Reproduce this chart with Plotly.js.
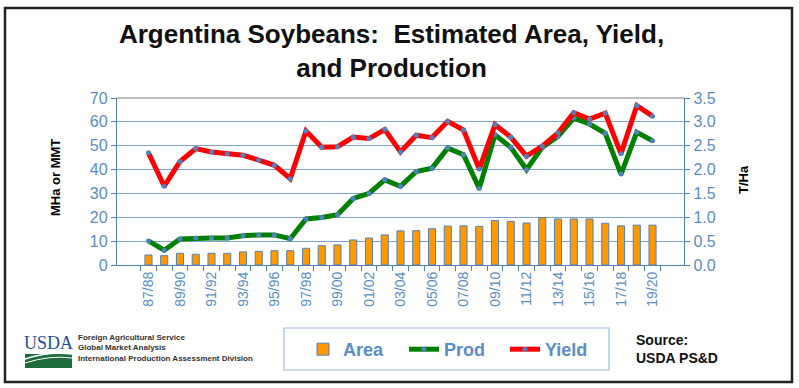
<!DOCTYPE html>
<html>
<head>
<meta charset="utf-8">
<script src="https://cdn.plot.ly/plotly-3.0.1.min.js"></script>
<style>html,body{margin:0;padding:0;background:#fff;}#chart{width:799px;height:388px;}</style>
</head>
<body>
<div id="chart"></div>
<script>
// ---- data ----
const years = ["87/88","88/89","89/90","90/91","91/92","92/93","93/94","94/95","95/96","96/97",
  "97/98","98/99","99/00","00/01","01/02","02/03","03/04","04/05","05/06","06/07",
  "07/08","08/09","09/10","10/11","11/12","12/13","13/14","14/15","15/16","16/17",
  "17/18","18/19","19/20"];
const areaVals = [4.2,3.9,4.9,4.5,4.9,4.9,5.5,5.7,6.0,6.0,
  7.0,8.1,8.4,10.5,11.3,12.6,14.3,14.4,15.2,16.3,
  16.4,16.2,18.6,18.3,17.6,19.8,19.3,19.3,19.3,17.5,
  16.4,16.7,16.7];
const prodVals = [10.1,6.2,10.9,11.3,11.3,11.3,12.3,12.6,12.6,11.0,
  19.3,19.9,21.1,27.9,30.0,35.7,33.0,39.2,40.6,49.0,
  46.2,32.1,54.6,49.3,40.0,49.3,53.9,61.6,59.1,55.2,
  38.1,55.6,52.1];
const yieldVals = [2.35,1.65,2.17,2.44,2.37,2.33,2.30,2.20,2.09,1.81,
  2.81,2.47,2.48,2.68,2.65,2.84,2.37,2.72,2.67,3.01,
  2.83,2.01,2.94,2.68,2.28,2.49,2.77,3.19,3.06,3.18,
  2.33,3.34,3.12];
const tickLabels = years.map((y,i)=> i%2===0 ? y : "");

// ---- layout helpers ----
const W=799,H=388, L=117, R=115, T=98, B=123;
const pw=W-L-R, ph=H-T-B;
const px=x=>(x-L)/pw, py=y=>(H-B-y)/ph;
const blue="#5B8DC6", lineBlue="#4F81BD";
const narrow="Liberation Sans Narrow, Arial Narrow, Liberation Sans, Arial, sans-serif";
const sans="Liberation Sans, Arial, sans-serif";

const traces=[
  {type:"bar",name:"Area",x:years,y:areaVals,width:0.45,
   marker:{color:"#FF9900",line:{color:lineBlue,width:1}},hoverinfo:"skip"},
  {type:"scatter",mode:"lines+markers",name:"Prod",x:years,y:prodVals,
   line:{color:"#008000",width:5},marker:{color:lineBlue,size:5},hoverinfo:"skip"},
  {type:"scatter",mode:"lines+markers",name:"Yield",x:years,y:yieldVals,yaxis:"y2",
   line:{color:"#FF0000",width:5},marker:{color:lineBlue,size:5},hoverinfo:"skip"}
];

function P(x,y){return px(x).toFixed(4)+","+py(y).toFixed(4);}
const shapes=[
  // outer frame
  {type:"rect",xref:"paper",yref:"paper",x0:px(5),x1:px(792),y0:py(382),y1:py(8),
   line:{color:"#1f2328",width:2.5},layer:"below"},
  // plot top border
  {type:"line",xref:"paper",yref:"paper",x0:0,x1:1,y0:1,y1:1,line:{color:"#7f7f7f",width:1.2}},
  // legend box
  {type:"rect",xref:"paper",yref:"paper",x0:px(284),x1:px(609),y0:py(370),y1:py(328),
   line:{color:"#9DBBDD",width:1.2}},
  // usda logo green field
  {type:"rect",xref:"paper",yref:"paper",x0:px(25),x1:px(72),y0:py(368),y1:py(354),
   fillcolor:"#1E6B3C",line:{width:0}},
  {type:"path",xref:"paper",yref:"paper",path:"M"+P(25,359)+" Q"+P(48,351)+" "+P(72,354),
   line:{color:"#ffffff",width:1.5}},
  {type:"path",xref:"paper",yref:"paper",path:"M"+P(25,363)+" Q"+P(50,355)+" "+P(72,358),
   line:{color:"#ffffff",width:1}}
];

const annotations=[
  {xref:"paper",yref:"paper",x:px(55),y:py(178),xanchor:"center",yanchor:"middle",
   text:"<b>MHa or MMT</b>",textangle:-90,
   showarrow:false,font:{family:sans,size:13,color:"#000"}},
  {xref:"paper",yref:"paper",x:px(743),y:py(180),xanchor:"center",yanchor:"middle",
   text:"<b>T/Ha</b>",textangle:-90,
   showarrow:false,font:{family:sans,size:13,color:"#000"}},
  {xref:"paper",yref:"paper",x:px(22),y:py(343),xanchor:"left",yanchor:"middle",text:"USDA",showarrow:false,
   font:{family:"Liberation Serif, Times New Roman, serif",size:18,color:"#1F4E9A"}},
  {xref:"paper",yref:"paper",x:px(76),y:py(348),xanchor:"left",yanchor:"middle",align:"left",showarrow:false,
   text:"<b>Foreign Agricultural Service<br>Global Market Analysis<br>International Production Assessment Division</b>",
   font:{family:narrow,size:8,color:"#333"}},
  {xref:"paper",yref:"paper",x:px(634),y:py(349),xanchor:"left",yanchor:"middle",align:"left",showarrow:false,
   text:"<b>Source:<br>USDA PS&amp;D</b>",font:{family:sans,size:14,color:"#111"}}
];

const layout={
  width:W,height:H,margin:{l:L,r:R,t:T,b:B,pad:0},
  paper_bgcolor:"#fff",plot_bgcolor:"#fff",
  title:{text:"<b>Argentina Soybeans:  Estimated Area, Yield,<br>and Production</b>",
    font:{family:narrow,size:26,color:"#111"},x:0.49,xanchor:"center",y:0.889,yanchor:"middle"},
  showlegend:true,
  legend:{orientation:"h",x:px(303),y:py(331),xanchor:"left",yanchor:"top",
    font:{family:narrow,size:18,color:blue,weight:"bold"},bgcolor:"rgba(0,0,0,0)",
    entrywidth:56,itemwidth:30,tracegroupgap:0,traceorder:"normal"},
  bargap:0.5,
  xaxis:{type:"category",tickvals:years,ticktext:tickLabels,tickangle:-90,
    tickson:"boundaries",ticks:"outside",ticklen:5,tickcolor:lineBlue,
    showline:true,linecolor:lineBlue,linewidth:1.2,showgrid:false,
    tickfont:{family:sans,size:14,color:blue},fixedrange:true},
  yaxis:{range:[0,70],dtick:10,showgrid:true,gridcolor:"#7FA3D0",gridwidth:1,
    zeroline:false,showline:true,linecolor:lineBlue,linewidth:1.2,
    ticks:"outside",ticklen:5,tickcolor:lineBlue,
    tickfont:{family:sans,size:16,color:blue},fixedrange:true},
  yaxis2:{range:[0,3.5],dtick:0.5,tickformat:".1f",overlaying:"y",side:"right",
    showgrid:false,zeroline:false,showline:true,linecolor:lineBlue,linewidth:1.2,
    ticks:"outside",ticklen:5,tickcolor:lineBlue,
    tickfont:{family:sans,size:16,color:blue},fixedrange:true},
  shapes:shapes,annotations:annotations
};
Plotly.newPlot("chart",traces,layout,{displayModeBar:false,staticPlot:true});
</script>
</body>
</html>
